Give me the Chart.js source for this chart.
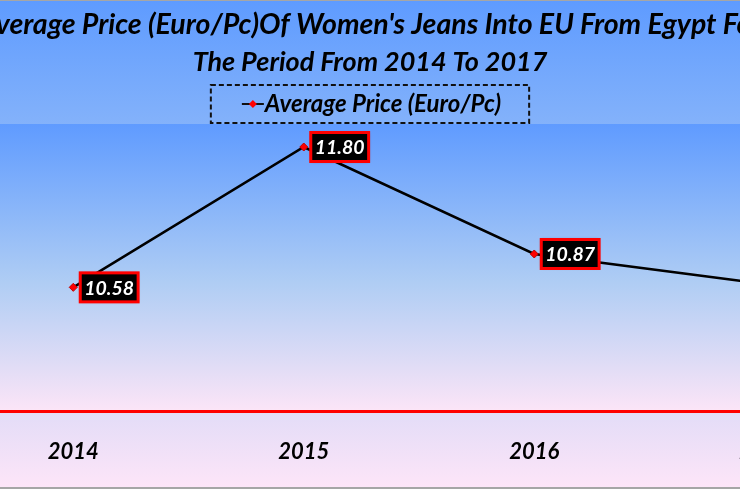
<!DOCTYPE html>
<html>
<head>
<meta charset="utf-8">
<script src="https://cdn.jsdelivr.net/npm/chart.js@4.4.1/dist/chart.umd.min.js"></script>
<style>
  html, body { margin: 0; padding: 0; overflow: hidden; background: #fff; }
  #wrap { position: absolute; left: -150px; top: 0; width: 1040px; height: 489px; }
</style>
</head>
<body>
<div id="wrap"><canvas id="myChart"></canvas></div>
<script>
// data
const categories = ['2014', '2015', '2016', '2017'];
const avgPrice = [10.58, 11.80, 10.87, 10.61];
const titleLines = [
  "Average Price (Euro/Pc)Of Women's Jeans Into EU From Egypt For",
  'The Period From 2014 To 2017'
];
const seriesName = 'Average Price (Euro/Pc)';

const fontFamily = 'Lato';

// backgrounds (chart + plot area)
const backgroundPlugin = {
  id: 'bg',
  beforeDraw(chart) {
    const ctx = chart.ctx;
    const w = chart.width, h = chart.height;
    const a = chart.chartArea;
    ctx.save();
    let g = ctx.createLinearGradient(0, 0, 0, 487);
    g.addColorStop(0, '#5e9bff');
    g.addColorStop(0.5, '#a8c8f6');
    g.addColorStop(1, '#fde5f8');
    ctx.fillStyle = g;
    ctx.fillRect(0, 0, w, h);
    let g2 = ctx.createLinearGradient(0, a.top, 0, a.bottom);
    g2.addColorStop(0, '#5f9bff');
    g2.addColorStop(0.55, '#afcdf4');
    g2.addColorStop(1, '#fce5f7');
    ctx.fillStyle = g2;
    ctx.fillRect(a.left, a.top, a.right - a.left, a.bottom - a.top);
    // chart border
    ctx.fillStyle = '#a6a6a6';
    ctx.fillRect(0, 0, w, 1);
    ctx.fillRect(0, 487, w, 2);
    ctx.restore();
  }
};

// title + legend box with dashed border, centred on the whole chart
const headerPlugin = {
  id: 'header',
  afterDraw(chart) {
    const ctx = chart.ctx;
    const cx = chart.width / 2;
    ctx.save();
    ctx.fillStyle = '#000';
    ctx.textAlign = 'center';
    ctx.textBaseline = 'middle';
    ctx.font = 'italic bold 28.5px ' + fontFamily;
    ctx.fillText(titleLines[0], cx, 25);
    ctx.font = 'italic bold 27px ' + fontFamily;
    ctx.fillText(titleLines[1], cx, 62);

    ctx.textAlign = 'left';
    ctx.font = 'italic bold 24px ' + fontFamily;
    const tw = ctx.measureText(seriesName).width;
    const boxW = tw + 82;
    const left = cx - boxW / 2;
    ctx.setLineDash([5, 3]);
    ctx.lineWidth = 2;
    ctx.strokeStyle = '#111';
    ctx.strokeRect(left, 85, boxW, 38);
    ctx.setLineDash([]);
    const y = 104;
    const sx = left + 31;
    ctx.beginPath();
    ctx.moveTo(sx, y);
    ctx.lineTo(sx + 22, y);
    ctx.lineWidth = 2;
    ctx.stroke();
    ctx.fillStyle = '#ff0000';
    ctx.beginPath();
    ctx.moveTo(sx + 11, y - 4);
    ctx.lineTo(sx + 15, y);
    ctx.lineTo(sx + 11, y + 4);
    ctx.lineTo(sx + 7, y);
    ctx.closePath();
    ctx.fill();
    ctx.fillStyle = '#000';
    ctx.fillText(seriesName, sx + 23, y);
    ctx.restore();
  }
};

// value labels: black box, red border, white text
const valueLabels = {
  id: 'valueLabels',
  afterDatasetsDraw(chart) {
    const ctx = chart.ctx;
    const meta = chart.getDatasetMeta(0);
    ctx.save();
    ctx.font = 'italic bold 19.5px ' + fontFamily;
    meta.data.forEach((pt, i) => {
      const txt = avgPrice[i].toFixed(2);
      const tw = ctx.measureText(txt).width;
      const bw = tw + 8, bh = 29;
      const bx = pt.x + 7, by = pt.y - bh / 2;
      ctx.shadowColor = 'rgba(0,0,0,0.35)';
      ctx.shadowBlur = 3;
      ctx.fillStyle = '#000';
      ctx.fillRect(bx, by, bw, bh);
      ctx.shadowBlur = 0;
      ctx.lineWidth = 3;
      ctx.strokeStyle = '#ff0000';
      ctx.strokeRect(bx, by, bw, bh);
      ctx.fillStyle = '#fff';
      ctx.textBaseline = 'middle';
      ctx.textAlign = 'left';
      ctx.fillText(txt, bx + 4, pt.y + 1);
    });
    ctx.restore();
  }
};

const ctx = document.getElementById('myChart').getContext('2d');
const chart = new Chart(ctx, {
  type: 'line',
  data: {
    labels: categories,
    datasets: [{
      label: seriesName,
      data: avgPrice,
      borderColor: '#000',
      borderWidth: 2.5,
      pointStyle: 'rectRot',
      pointRadius: 4,
      pointBackgroundColor: '#ff0000',
      pointBorderColor: '#c00000',
      pointBorderWidth: 1,
      tension: 0
    }]
  },
  options: {
    responsive: true,
    maintainAspectRatio: false,
    animation: false,
    layout: { padding: { left: 108, right: 10, top: 124, bottom: 5 } },
    plugins: {
      legend: { display: false },
      tooltip: { enabled: false },
      title: { display: false }
    },
    scales: {
      x: {
        offset: true,
        grid: { display: false },
        border: { color: '#ff0000', width: 3 },
        ticks: {
          color: '#000',
          padding: 19,
          font: { family: fontFamily, size: 22, weight: 'bold', style: 'italic' }
        }
      },
      y: {
        display: false,
        min: 9.5,
        max: 12
      }
    }
  },
  plugins: [backgroundPlugin, headerPlugin, valueLabels]
});
</script>
</body>
</html>
